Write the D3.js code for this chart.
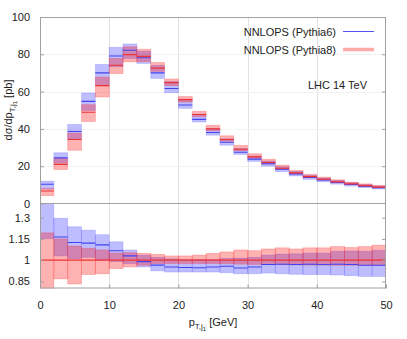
<!DOCTYPE html>
<html>
<head>
<meta charset="utf-8">
<script src="https://cdn.jsdelivr.net/npm/d3@7"></script>
<style>
  body { margin: 0; background: #fff; }
  text { font-family: "Liberation Sans", Arial, sans-serif; fill: #222; }
</style>
</head>
<body>
<div id="chartContainer"></div>
<script>
// bin edges in GeV (2 GeV bins)
const binEdges = [0, 2, 4, 6, 8, 10, 12, 14, 16, 18, 20, 22, 24, 26, 28, 30, 32, 34, 36, 38, 40, 42, 44, 46, 48, 50];

// Pythia8 central value, pb
const p8Central = [6.7, 21.0, 34.3, 48.9, 63.2, 74.1, 79.8, 78.9, 72.6, 64.8, 55.7, 47.7, 40.0,
  34.3, 29.1, 25.0, 22.0, 18.9, 16.4, 14.4, 13.0, 11.6, 10.5, 9.6, 8.8];

// ratios to the Pythia8 central value
const p8Hi = [1.193, 1.15, 1.10, 1.084, 1.072, 1.05, 1.053, 1.048, 1.041, 1.03, 1.03, 1.036, 1.048,
  1.058, 1.072, 1.067, 1.079, 1.087, 1.079, 1.087, 1.087, 1.096, 1.089, 1.096, 1.106];
const p8Lo = [0.63, 0.868, 0.832, 0.899, 0.904, 0.94, 0.952, 0.964, 0.976, 0.976, 0.976, 0.976, 0.976,
  0.975, 0.972, 0.97, 0.968, 0.968, 0.966, 0.965, 0.965, 0.964, 0.964, 0.962, 0.962];
const p6Central = [1.54, 1.164, 1.125, 1.12, 1.108, 1.067, 1.03, 0.99, 0.965, 0.952, 0.948, 0.946, 0.952,
  0.957, 0.945, 0.952, 0.969, 0.971, 0.969, 0.971, 0.969, 0.971, 0.969, 0.964, 0.964];
const p6Hi = [1.79, 1.296, 1.236, 1.212, 1.18, 1.13, 1.072, 1.035, 1.02, 1.01, 1.005, 1.005, 1.005,
  1.012, 1.015, 1.02, 1.036, 1.043, 1.045, 1.05, 1.05, 1.063, 1.065, 1.063, 1.07];
const p6Lo = [1.151, 1.03, 1.01, 1.02, 1.0, 0.99, 0.975, 0.952, 0.924, 0.916, 0.916, 0.916, 0.916,
  0.911, 0.904, 0.904, 0.909, 0.904, 0.9, 0.898, 0.898, 0.895, 0.89, 0.885, 0.885];

const xTicks = [0, 10, 20, 30, 40, 50];
const yTopTicks = [20, 40, 60, 80, 100];
const yBotTicks = [0.85, 1, 1.15, 1.3];

const width = 407, height = 339;
const plotLeft = 40, plotRight = 386, plotTop = 17, plotMid = 203.5, plotBottom = 288.5;

const x = d3.scaleLinear([0, 50], [plotLeft, plotRight]);
const yTop = d3.scaleLinear([0, 100], [plotMid, plotTop]);
const yBot = d3.scaleLinear([0.8, 1.4], [plotBottom, plotMid]);

const blue = "#3333ff", red = "#ff3333";

const svg = d3.create("svg")
  .attr("width", width)
  .attr("height", height)
  .attr("viewBox", [0, 0, width, height]);

const defs = svg.append("defs");
defs.append("clipPath").attr("id", "clipTop")
  .append("rect").attr("x", plotLeft).attr("y", plotTop).attr("width", plotRight - plotLeft).attr("height", plotMid - plotTop);
defs.append("clipPath").attr("id", "clipBot")
  .append("rect").attr("x", plotLeft).attr("y", plotMid).attr("width", plotRight - plotLeft).attr("height", plotBottom - plotMid);

// grid lines
const grid = svg.append("g").attr("stroke", "#e2e2e2").attr("stroke-width", 1);
grid.selectAll(".vg").data(xTicks.slice(1, -1)).join("line")
  .attr("x1", d => Math.round(x(d)) + 0.5).attr("x2", d => Math.round(x(d)) + 0.5)
  .attr("y1", plotTop).attr("y2", plotBottom);
grid.selectAll(".hg").data(yTopTicks.slice(0, -1)).join("line")
  .attr("stroke", "#f2f2f2")
  .attr("x1", plotLeft).attr("x2", plotRight)
  .attr("y1", d => Math.round(yTop(d)) + 0.5).attr("y2", d => Math.round(yTop(d)) + 0.5);

const bins = binEdges.slice(0, -1).map((e, i) => ({
  x0: e, x1: binEdges[i + 1], c: p8Central[i],
  p8Lo: p8Lo[i], p8Hi: p8Hi[i], p6C: p6Central[i], p6Lo: p6Lo[i], p6Hi: p6Hi[i]
}));

function drawPanel(g, y, scaleVal) {
  // Pythia6 band
  g.selectAll(".b6").data(bins).join("rect")
    .attr("x", d => x(d.x0)).attr("width", d => x(d.x1) - x(d.x0))
    .attr("y", d => y(scaleVal(d, d.p6Hi))).attr("height", d => y(scaleVal(d, d.p6Lo)) - y(scaleVal(d, d.p6Hi)))
    .attr("fill", blue).attr("fill-opacity", 0.32)
    .attr("stroke", blue).attr("stroke-opacity", 0.2).attr("stroke-width", 0.8);
  // Pythia8 band
  g.selectAll(".b8").data(bins).join("rect")
    .attr("x", d => x(d.x0)).attr("width", d => x(d.x1) - x(d.x0))
    .attr("y", d => y(scaleVal(d, d.p8Hi))).attr("height", d => y(scaleVal(d, d.p8Lo)) - y(scaleVal(d, d.p8Hi)))
    .attr("fill", "#ff0000").attr("fill-opacity", 0.3)
    .attr("stroke", red).attr("stroke-opacity", 0.3).attr("stroke-width", 0.8);
  // central lines
  g.selectAll(".c6").data(bins).join("line")
    .attr("x1", d => x(d.x0)).attr("x2", d => x(d.x1))
    .attr("y1", d => y(scaleVal(d, d.p6C))).attr("y2", d => y(scaleVal(d, d.p6C)))
    .attr("stroke", "#4444ee").attr("stroke-width", 1.1);
  g.selectAll(".c8").data(bins).join("line")
    .attr("x1", d => x(d.x0)).attr("x2", d => x(d.x1))
    .attr("y1", d => y(scaleVal(d, 1))).attr("y2", d => y(scaleVal(d, 1)))
    .attr("stroke", "#ee3333").attr("stroke-width", 1.1);
}

drawPanel(svg.append("g").attr("clip-path", "url(#clipTop)"), yTop, (d, r) => d.c * r);
drawPanel(svg.append("g").attr("clip-path", "url(#clipBot)"), yBot, (d, r) => r);

// frame
const frameColor = "#a0a0a0";
svg.append("rect").attr("x", plotLeft + 0.5).attr("y", plotTop + 0.5)
  .attr("width", plotRight - plotLeft - 1).attr("height", plotBottom - plotTop - 1)
  .attr("fill", "none").attr("stroke", frameColor);
svg.append("line").attr("x1", plotLeft).attr("x2", plotRight).attr("y1", plotMid).attr("y2", plotMid)
  .attr("stroke", frameColor);

// axes (ticks inward, mirrored)
const tickLen = 4;
svg.append("g").attr("transform", `translate(${plotLeft},0)`)
  .call(d3.axisLeft(yTop).tickValues(yTopTicks.concat([0])).tickSize(-tickLen).tickPadding(6 + tickLen).tickFormat(d3.format("d")))
  .call(g => g.select(".domain").remove());
svg.append("g").attr("transform", `translate(${plotRight},0)`)
  .call(d3.axisRight(yTop).tickValues(yTopTicks).tickSize(-tickLen).tickFormat(""))
  .call(g => g.select(".domain").remove());
svg.append("g").attr("transform", `translate(${plotLeft},0)`)
  .call(d3.axisLeft(yBot).tickValues(yBotTicks).tickSize(-tickLen).tickPadding(6 + tickLen).tickFormat(d => d))
  .call(g => g.select(".domain").remove());
svg.append("g").attr("transform", `translate(${plotRight},0)`)
  .call(d3.axisRight(yBot).tickValues(yBotTicks).tickSize(-tickLen).tickFormat(""))
  .call(g => g.select(".domain").remove());
svg.append("g").attr("transform", `translate(0,${plotBottom})`)
  .call(d3.axisBottom(x).tickValues(xTicks).tickSize(-tickLen).tickPadding(9 + tickLen))
  .call(g => g.select(".domain").remove());

svg.selectAll(".tick line").attr("stroke", frameColor);
svg.selectAll(".tick text")
  .attr("font-family", "Liberation Sans, Arial, sans-serif")
  .attr("font-size", 11).attr("fill", "#222");

// axis titles
const yl = svg.append("text")
  .attr("transform", `translate(12,110) rotate(-90)`)
  .attr("text-anchor", "middle").attr("font-size", 11);
yl.append("tspan").text("dσ/dp");
yl.append("tspan").attr("font-size", 8).attr("dy", 3).text("T,j");
yl.append("tspan").attr("font-size", 6).attr("dy", 2).text("1");
yl.append("tspan").attr("dy", -5).text(" [pb]");

const xl = svg.append("text")
  .attr("x", 213).attr("y", 326)
  .attr("text-anchor", "middle").attr("font-size", 11);
xl.append("tspan").text("p");
xl.append("tspan").attr("font-size", 8).attr("dy", 3).text("T,j");
xl.append("tspan").attr("font-size", 6).attr("dy", 2).text("1");
xl.append("tspan").attr("dy", -5).text(" [GeV]");

// legend
const legend = [
  {label: "NNLOPS (Pythia6)", y: 31.5},
  {label: "NNLOPS (Pythia8)", y: 49.5}
];
svg.selectAll(".lt").data(legend).join("text")
  .attr("x", 336).attr("y", d => d.y + 4)
  .attr("text-anchor", "end").attr("font-size", 11)
  .text(d => d.label);
svg.append("line").attr("x1", 343).attr("x2", 374).attr("y1", 31.5).attr("y2", 31.5)
  .attr("stroke", "#5555ee").attr("stroke-width", 1);
svg.append("line").attr("x1", 343).attr("x2", 374).attr("y1", 49.5).attr("y2", 49.5)
  .attr("stroke", "#ffaaaa").attr("stroke-width", 3.5);

svg.append("text").attr("x", 367).attr("y", 89)
  .attr("text-anchor", "end").attr("font-size", 11)
  .text("LHC 14 TeV");

document.getElementById("chartContainer").append(svg.node());
</script>
</body>
</html>
